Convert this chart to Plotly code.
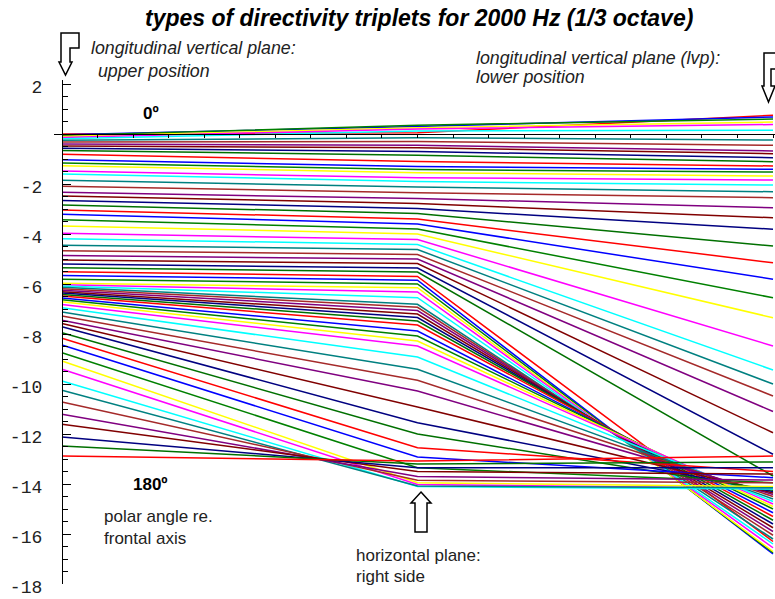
import plotly.graph_objects as go

# Directivity values (dB) for each polar angle, 0° to 180° in 2.5° steps,
# in the three measuring planes.
planes = ["lvp upper", "horizontal right", "lvp lower"]

upper_lvp = [
    0.0, -0.03, -0.06, -0.10, -0.14, -0.19, -0.25, -0.32, -0.40, -0.48, -0.57, -0.66,
    -0.81, -1.03, -1.16, -1.27, -1.48, -1.60, -1.85, -2.09, -2.33, -2.48, -2.66, -2.84,
    -3.04, -3.21, -3.43, -3.68, -3.97, -4.19, -4.45, -4.67, -4.86, -5.04, -5.20, -5.35,
    -5.51, -5.66, -5.81, -5.97, -6.03, -6.08, -6.13, -6.19, -6.25, -6.31, -6.36, -6.42,
    -6.48, -6.56, -6.63, -6.71, -6.82, -6.95, -7.12, -7.28, -7.45, -7.58, -7.71, -7.95,
    -8.17, -8.44, -8.75, -9.08, -9.41, -9.88, -10.25, -10.72, -11.21, -11.61, -12.12, -12.48,
    -12.88,
]

horizontal_right = [
    0.05, 0.30, 0.35, 0.25, 0.20, 0.12, -0.15, -0.30, -0.45, -0.55, -0.70, -0.85,
    -1.10, -1.30, -1.42, -1.55, -1.75, -1.90, -2.12, -2.35, -2.58, -2.78, -2.98, -3.18,
    -3.40, -3.60, -3.80, -4.00, -4.22, -4.42, -4.62, -4.82, -5.00, -5.18, -5.36, -5.52,
    -5.70, -5.85, -6.00, -6.15, -6.32, -6.55, -6.81, -6.93, -7.06, -7.20, -7.34, -7.48,
    -7.64, -7.88, -8.08, -8.28, -8.48, -8.92, -9.41, -9.85, -10.28, -10.92, -11.55, -12.00,
    -12.55, -12.92, -13.35, -13.95, -14.02, -14.10, -14.08, -13.85, -13.70, -13.50, -13.35, -13.20,
    -13.08,
]

lower_lvp = [
    0.75, 0.68, 0.60, 0.48, 0.38, 0.15, -0.24, -0.45, -0.68, -0.79, -0.95, -1.11,
    -1.28, -1.41, -1.52, -1.68, -1.84, -2.04, -2.31, -2.55, -2.95, -3.35, -3.81, -4.48,
    -5.15, -5.81, -6.55, -7.35, -8.48, -9.44, -10.00, -10.48, -11.10, -11.95, -12.81, -13.68,
    -16.30, -16.80, -16.75, -16.70, -16.55, -16.40, -16.20, -16.05, -15.90, -15.75, -15.60, -15.45,
    -15.30, -15.15, -15.00, -14.90, -14.80, -14.70, -14.60, -14.50, -14.42, -14.36, -14.30, -14.25,
    -13.50, -13.75, -13.95, -14.10, -14.18, -14.20, -14.15, -13.95, -13.84, -13.60, -13.35, -13.12,
    -12.88,
]

palette = [
    "#FF0000", "#0000FF", "#008000", "#FFFF00", "#FF00FF", "#00FFFF",
    "#008080", "#A52A2A", "#800080", "#800000", "#000080", "#007000",
]

y_ticks = [2, 0, -2, -4, -6, -8, -10, -12, -14, -16, -18]
y_tick_text = ["2", "", "-2", "-4", "-6", "-8", "-10", "-12", "-14", "-16", "-18"]

plane_pos = list(range(len(planes)))

fig = go.Figure()
for i, triplet in enumerate(zip(upper_lvp, horizontal_right, lower_lvp)):
    fig.add_trace(go.Scatter(
        x=plane_pos, y=list(triplet), mode="lines",
        line=dict(color=palette[i % len(palette)], width=1.5),
        hoverinfo="skip", showlegend=False,
    ))

# plot-area geometry in pixels, used to place the free-floating labels
W, H = 775, 599
PL, PT, PW, PH = 54, 80, 721, 504
X_MIN, X_MAX = -0.0225, 2.0056
Y_MIN, Y_MAX = -18.0, 2.16


def fx(px):
    return (px - PL) / PW


def fy(py):
    return (PT + PH - py) / PH


SANS = "Liberation Sans"
MONO = "Liberation Mono"

fig.update_layout(
    width=W, height=H,
    margin=dict(l=PL, r=W - PL - PW, t=PT, b=H - PT - PH, pad=0),
    paper_bgcolor="white", plot_bgcolor="white",
    xaxis=dict(
        range=[X_MIN, X_MAX], anchor="free",
        position=(0 - Y_MIN) / (Y_MAX - Y_MIN),
        showline=True, linecolor="black", linewidth=1.3,
        ticks="outside", ticklen=3, tickwidth=1.2, tickcolor="black",
        tick0=0, dtick=0.1, showticklabels=False,
        showgrid=False, zeroline=False, fixedrange=True,
    ),
    yaxis=dict(
        range=[Y_MIN, Y_MAX], anchor="free",
        position=(0 - X_MIN) / (X_MAX - X_MIN),
        showline=True, linecolor="black", linewidth=1.3,
        tickmode="array", tickvals=y_ticks, ticktext=y_tick_text,
        ticks="inside", ticklen=8, tickwidth=1.3, tickcolor="black",
        minor=dict(dtick=0.5, ticks="inside", ticklen=5, tickwidth=1.1, tickcolor="black"),
        ticklabelstandoff=16, ticklabelshift=3,
        tickfont=dict(family=MONO, size=18, color="#222"),
        showgrid=False, zeroline=False, fixedrange=True,
    ),
)

labels = [
    ("<b><i>types of directivity triplets for 2000 Hz (1/3 octave)</i></b>", 419, 18, "center", 23, "black"),
    ("<i>longitudinal vertical plane:</i>", 89, 48, "left", 17.8, "#222"),
    ("<i> upper position</i>", 91, 71, "left", 17.8, "#222"),
    ("<i>longitudinal vertical plane (lvp):</i>", 474, 58, "left", 17.8, "#222"),
    ("<i>lower position</i>", 474, 77, "left", 17.8, "#222"),
    ("<b>0º</b>", 141, 113, "left", 17, "black"),
    ("<b>180º</b>", 131, 484, "left", 17, "black"),
    ("polar angle re.", 102, 516, "left", 17, "#222"),
    ("frontal axis", 102, 538, "left", 17, "#222"),
    ("horizontal plane:", 354, 555, "left", 17, "#222"),
    ("right side", 354, 576, "left", 17, "#222"),
]
for text, px, py, anchor, size, color in labels:
    fig.add_annotation(
        text=text, xref="paper", yref="paper", x=fx(px), y=fy(py),
        xanchor=anchor, yanchor="middle", showarrow=False,
        font=dict(family=SANS, size=size, color=color),
    )

# outlined pointer arrows marking the three measuring planes
arrows = [
    [(61, 33), (79, 33), (79, 48), (70, 48), (70, 62), (72, 62), (65.5, 75), (59, 62), (61, 62)],
    [(764, 53), (786, 53), (786, 69), (771, 69), (771, 86), (775, 86), (768.5, 102), (762, 86), (764, 86)],
    [(421, 492), (431, 503), (427, 503), (427, 532), (415, 532), (415, 503), (411, 503)],
]
for pts in arrows:
    path = "M " + " L ".join(f"{fx(x):.5f},{fy(y):.5f}" for x, y in pts) + " Z"
    fig.add_shape(type="path", path=path, xref="paper", yref="paper",
                  line=dict(color="black", width=1.5), fillcolor="white", layer="above")

fig.write_html("out.html")
